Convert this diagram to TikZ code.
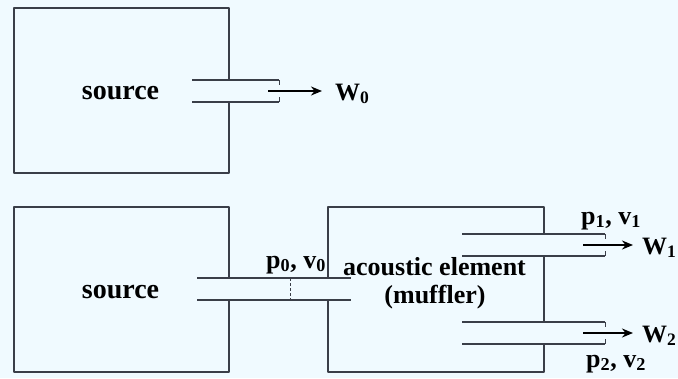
\documentclass[tikz,border=0pt]{standalone}
\usepackage{fontspec}
\setmainfont{Liberation Serif}
\usetikzlibrary{arrows.meta}
\definecolor{bgc}{RGB}{240,250,255}
\definecolor{linec}{RGB}{58,62,72}
\begin{document}
\begin{tikzpicture}[x=1pt,y=-1pt,
  wall/.style={draw=linec,line width=1.8pt,line join=round},
  pipe/.style={draw=linec,line width=1.8pt},
  endtick/.style={draw=linec,line width=1pt,dash pattern=on 5pt off 12pt},
  flow/.style={draw=black,line width=2pt,-{Stealth[length=11pt,width=9pt]}},
  lbl/.style={font=\fontsize{26}{30}\selectfont\bfseries,inner sep=0pt,text=black},
  wlbl/.style={font=\fontsize{25}{30}\selectfont\bfseries,inner sep=0pt,text=black},
  srclbl/.style={font=\fontsize{28}{32}\selectfont\bfseries,inner sep=0pt,text=black}]
\fill[bgc] (0,0) rectangle (678,378);
\useasboundingbox (0,0) rectangle (678,378);

% ---- top: source alone ----
\draw[wall] (229,80) -- (229,8) -- (14,8) -- (14,173) -- (229,173) -- (229,102);
\draw[pipe] (192,80) -- (279,80);
\draw[pipe] (192,102) -- (279,102);
\draw[endtick] (279,80) -- (279,102);
\node[srclbl,anchor=base] (s1) at (120.5,99) {source};
\coordinate (a0) at (268,91);
\node[wlbl,anchor=base west] (w0) at (335,100) {W\textsubscript{0}};
\draw[flow] (a0) -- (322,91);

% ---- bottom: source + muffler ----
\draw[wall] (229,278) -- (229,207) -- (14,207) -- (14,372) -- (229,372) -- (229,300);
\node[srclbl,anchor=base] (s2) at (120.5,298) {source};

\draw[wall] (328,278) -- (328,207) -- (544,207) -- (544,234);
\draw[wall] (544,256) -- (544,322);
\draw[wall] (544,344) -- (544,372) -- (328,372) -- (328,300);

% inlet pipe
\draw[pipe] (197,278) -- (351,278);
\draw[pipe] (197,300) -- (351,300);
\draw[draw=linec,line width=1pt,dash pattern=on 3pt off 2pt] (290,278) -- (290,300);
\node[lbl,anchor=base west] (pv0) at (266,268) {p\textsubscript{0}, v\textsubscript{0}};

\node[lbl,anchor=base west] (ae) at (343,275) {acoustic element};
\node[lbl,anchor=base] (mf) at (435,303) {(muffler)};

% outlet 1
\draw[pipe] (462,234) -- (605,234);
\draw[pipe] (462,256) -- (605,256);
\draw[endtick] (605,234) -- (605,256);
\node[lbl,anchor=base west] (pv1) at (581,224) {p\textsubscript{1}, v\textsubscript{1}};
\coordinate (a1) at (583,245);
\node[wlbl,anchor=base west] (w1) at (642,254) {W\textsubscript{1}};
\draw[flow] (a1) -- (633,245);

% outlet 2
\draw[pipe] (462,322) -- (605,322);
\draw[pipe] (462,344) -- (605,344);
\draw[endtick] (605,322) -- (605,344);
\node[lbl,anchor=base west] (pv2) at (586,367) {p\textsubscript{2}, v\textsubscript{2}};
\coordinate (a2) at (583,333);
\node[wlbl,anchor=base west] (w2) at (642,342) {W\textsubscript{2}};
\draw[flow] (a2) -- (633,333);
\end{tikzpicture}
\end{document}
